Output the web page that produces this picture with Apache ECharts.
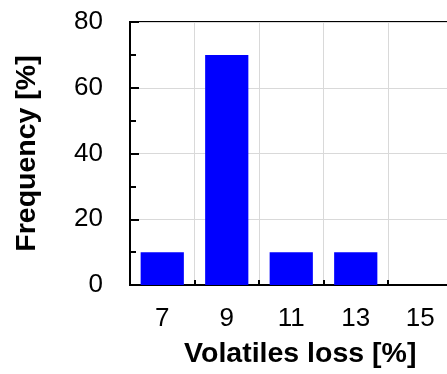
<!DOCTYPE html>
<html><head><meta charset="utf-8">
<script src="https://cdn.jsdelivr.net/npm/echarts@6/dist/echarts.min.js"></script>
<style>html,body{margin:0;padding:0;background:#fff;overflow:hidden}#c{width:453px;height:374px}</style>
</head><body><div id="c"></div>
<script>
var categories = ['7', '9', '11', '13', '15'];
var frequency = [10, 70, 10, 10, 0];
var yTicks = [0, 20, 40, 60, 80];

var chart = echarts.init(document.getElementById('c'), null, {renderer: 'canvas'});
chart.setOption({
  animation: false,
  backgroundColor: '#fff',
  grid: {left: 130, top: 22, right: 0.5, bottom: 88, show: true, borderColor: '#000', borderWidth: 2, backgroundColor: 'transparent'},
  xAxis: {
    type: 'category', data: categories, boundaryGap: true,
    name: 'Volatiles loss [%]', nameLocation: 'middle', nameGap: 55,
    nameTextStyle: {fontFamily: 'Liberation Sans', fontWeight: 'bold', fontSize: 28.5, color: '#000', padding: [0, 0, 0, 18]},
    axisLine: {lineStyle: {color: '#000', width: 2}},
    axisTick: {show: true, inside: true, length: 5, lineStyle: {color: '#000', width: 2}},
    axisLabel: {fontFamily: 'Liberation Sans', fontSize: 26, color: '#000', margin: 21},
    splitLine: {show: true, lineStyle: {color: '#d9d9d9', width: 1}}
  },
  yAxis: {
    type: 'value', min: 0, max: 80, interval: 20,
    name: 'Frequency [%]', nameLocation: 'middle', nameGap: 88,
    nameTextStyle: {fontFamily: 'Liberation Sans', fontWeight: 'bold', fontSize: 28.5, color: '#000'},
    axisLine: {show: true, lineStyle: {color: '#000', width: 2}},
    axisTick: {show: true, inside: true, length: 9, lineStyle: {color: '#000', width: 2}},
    minorTick: {show: true, splitNumber: 2, length: 6, lineStyle: {color: '#000', width: 2}},
    axisLabel: {fontFamily: 'Liberation Sans', fontSize: 26, color: '#000', margin: 27,
      formatter: function (v) { return yTicks.indexOf(v) >= 0 ? String(v) : ''; }},
    splitLine: {show: true, lineStyle: {color: '#d9d9d9', width: 1}}
  },
  series: [{
    type: 'bar', data: frequency, barWidth: '67%',
    itemStyle: {color: '#0000ff', borderWidth: 0}
  }]
});
</script></body></html>
